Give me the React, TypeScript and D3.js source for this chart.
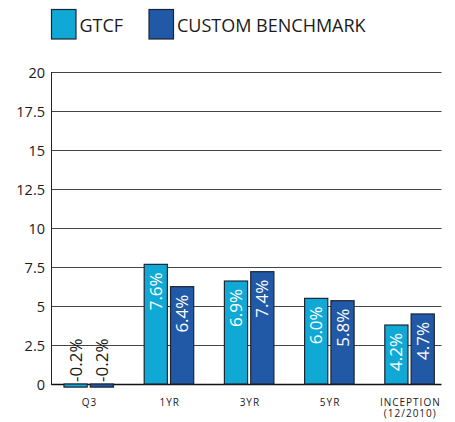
import React from "react";
import * as d3 from "d3";

const categories = ["Q3", "1YR", "3YR", "5YR", "INCEPTION\n(12/2010)"];
const seriesNames = ["GTCF", "CUSTOM BENCHMARK"];
const gtcfValues = [-0.2, 7.67, 6.6, 5.49, 3.78];
const benchValues = [-0.2, 6.24, 7.2, 5.34, 4.49];
const gtcfLabels = ["-0.2%", "7.6%", "6.9%", "6.0%", "4.2%"];
const benchLabels = ["-0.2%", "6.4%", "7.4%", "5.8%", "4.7%"];
const yTicks = [0, 2.5, 5, 7.5, 10, 12.5, 15, 17.5, 20];
const colors = ["#10A9D6", "#2159A7"];

const W = 455;
const H = 422;
const FONT = "'Open Sans', 'Noto Sans', sans-serif";

export default function App() {
  const plotLeft = 51.5;
  const plotRight = 441.5;
  const y = d3.scaleLinear().domain([0, 20]).range([384, 72]);
  const x0 = d3.scaleBand().domain(categories).range([48.4, 449.4]).padding(0);
  const x1 = d3
    .scaleBand()
    .domain(seriesNames)
    .range([x0.bandwidth() / 2 - 24.5, x0.bandwidth() / 2 + 25])
    .paddingInner(0.12);

  const series = [
    { name: seriesNames[0], values: gtcfValues, labels: gtcfLabels, color: colors[0] },
    { name: seriesNames[1], values: benchValues, labels: benchLabels, color: colors[1] },
  ];

  return (
    <svg
      width={W}
      height={H}
      style={{ position: "absolute", left: 0, top: 0, background: "#fff" }}
      fontFamily={FONT}
    >
      {/* legend */}
      {series.map((s, i) => {
        const lx = i === 0 ? 51.5 : 149;
        return (
          <g key={s.name}>
            <rect x={lx} y={9.5} width={24.5} height={29.5} fill={s.color} stroke="#1d2533" strokeWidth={1.2} />
            <text x={lx + 28} y={31.5} fontSize={18} fill="#1a1a1a">
              {s.name}
            </text>
          </g>
        );
      })}

      {/* grid lines */}
      {yTicks.map((t) => (
        <g key={t}>
          <line
            x1={plotLeft}
            x2={plotRight}
            y1={Math.round(y(t)) + 0.5}
            y2={Math.round(y(t)) + 0.5}
            stroke={t === 0 ? "#111" : "#444"}
            strokeWidth={t === 0 ? 1.5 : 1}
          />
          <text
            x={45}
            y={Math.round(y(t)) + 5.5}
            fontSize={14.5}
            textAnchor="end"
            fill="#1a1a1a"
          >
            {t}
          </text>
        </g>
      ))}
      <line x1={plotLeft} x2={plotLeft} y1={72} y2={385} stroke="#222" strokeWidth={1} />

      {/* bars */}
      {categories.map((c, ci) => (
        <g key={c} transform={`translate(${x0(c)},0)`}>
          {series.map((s) => {
            const v = s.values[ci];
            const bx = x1(s.name)!;
            const bw = x1.bandwidth();
            const top = y(Math.max(0, v));
            const bottom = y(Math.min(0, v));
            const cx = bx + bw / 2;
            const neg = v < 0;
            return (
              <g key={s.name}>
                <rect
                  x={bx}
                  y={top}
                  width={bw}
                  height={Math.max(0.5, bottom - top)}
                  fill={s.color}
                  stroke="#1d2533"
                  strokeWidth={1.2}
                />
                {neg ? (
                  <text
                    transform={`translate(${cx + 6},${y(0) - 2}) rotate(-90)`}
                    fontSize={17}
                    fill="#1a1a1a"
                    textAnchor="start"
                  >
                    {s.labels[ci]}
                  </text>
                ) : (
                  <text
                    transform={`translate(${cx + 6},${top + 8}) rotate(-90)`}
                    fontSize={17}
                    fill="#ffffff"
                    textAnchor="end"
                  >
                    {s.labels[ci]}
                  </text>
                )}
              </g>
            );
          })}
          {c.split("\n").map((line, li) => (
            <text
              key={li}
              x={x0.bandwidth() / 2 + 1}
              y={406 + li * 11}
              fontSize={10}
              letterSpacing={1}
              textAnchor="middle"
              fill="#1a1a1a"
            >
              {line}
            </text>
          ))}
        </g>
      ))}
    </svg>
  );
}
